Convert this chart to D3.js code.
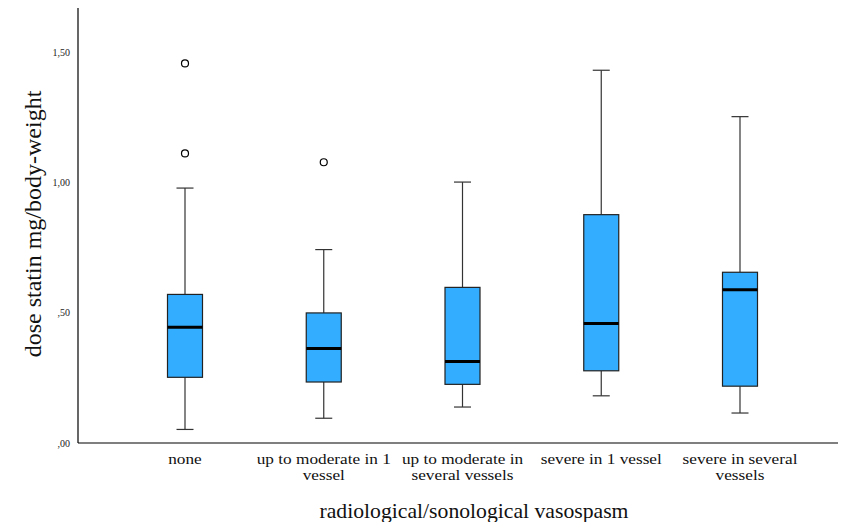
<!DOCTYPE html>
<html><head><meta charset="utf-8">
<script src="https://cdn.jsdelivr.net/npm/d3@7"></script>
<style>body{margin:0;background:#fff}svg{display:block}text{font-family:"Liberation Serif","Times New Roman",serif}</style>
</head><body>
<script>
const categories = [["none"],["up to moderate in 1","vessel"],["up to moderate in","several vessels"],["severe in 1 vessel"],["severe in several","vessels"]];
const whiskerLow  = [0.052, 0.095, 0.138, 0.181, 0.115];
const q1          = [0.252, 0.234, 0.225, 0.277, 0.218];
const median      = [0.444, 0.363, 0.313, 0.458, 0.588];
const q3          = [0.570, 0.499, 0.597, 0.876, 0.655];
const whiskerHigh = [0.978, 0.742, 1.001, 1.430, 1.252];
const outliers    = [[1.456, 1.111],[1.077],[],[],[]];
const yTicks = [0, 0.5, 1.0, 1.5];

const W = 847, H = 522;
const svg = d3.select("body").append("svg").attr("width", W).attr("height", H);
const font = "Liberation Serif, Times New Roman, serif";

const y = d3.scaleLinear().domain([0, 1.5]).range([443, 52]);
const x = d3.scalePoint().domain(d3.range(categories.length)).range([185, 740]);
const bw = 35, cw = 17;

const yAxis = d3.axisLeft(y).tickValues(yTicks).tickSize(0).tickPadding(8)
  .tickFormat(v => d3.format(".2f")(v).replace(/^0/, "").replace(".", ","));
const gy = svg.append("g").attr("transform", "translate(78,0)").call(yAxis);
gy.select(".domain").remove();
gy.selectAll("text").attr("font-family", font).attr("font-size", 10).attr("fill", "#222");
svg.append("line").attr("x1", 78).attr("x2", 78).attr("y1", 8).attr("y2", 443).attr("stroke", "#000").attr("stroke-width", 1.2);
svg.append("line").attr("x1", 78).attr("x2", 838).attr("y1", 443).attr("y2", 443).attr("stroke", "#000").attr("stroke-width", 1.2);

const g = svg.append("g");
categories.forEach((c, i) => {
  const cx = x(i);
  g.append("line").attr("x1", cx).attr("x2", cx).attr("y1", y(whiskerHigh[i])).attr("y2", y(q3[i])).attr("stroke", "#333").attr("stroke-width", 1.2);
  g.append("line").attr("x1", cx).attr("x2", cx).attr("y1", y(q1[i])).attr("y2", y(whiskerLow[i])).attr("stroke", "#333").attr("stroke-width", 1.2);
  g.append("line").attr("x1", cx - cw/2).attr("x2", cx + cw/2).attr("y1", y(whiskerHigh[i])).attr("y2", y(whiskerHigh[i])).attr("stroke", "#333").attr("stroke-width", 1.2);
  g.append("line").attr("x1", cx - cw/2).attr("x2", cx + cw/2).attr("y1", y(whiskerLow[i])).attr("y2", y(whiskerLow[i])).attr("stroke", "#333").attr("stroke-width", 1.2);
  g.append("rect").attr("x", cx - bw/2).attr("width", bw).attr("y", y(q3[i])).attr("height", y(q1[i]) - y(q3[i]))
    .attr("fill", "#33adff").attr("stroke", "#222").attr("stroke-width", 1.2);
  g.append("line").attr("x1", cx - bw/2).attr("x2", cx + bw/2).attr("y1", y(median[i])).attr("y2", y(median[i])).attr("stroke", "#000").attr("stroke-width", 3);
  outliers[i].forEach(o => {
    g.append("circle").attr("cx", cx).attr("cy", y(o)).attr("r", 3.5).attr("fill", "#fff").attr("stroke", "#000").attr("stroke-width", 1.2);
  });
  const t = svg.append("text").attr("transform", `translate(${cx},464) scale(1.15,1)`).attr("text-anchor", "middle")
    .attr("font-family", font).attr("font-size", 15).attr("fill", "#111");
  c.forEach((line, k) => t.append("tspan").attr("x", 0).attr("y", k * 16).text(line));
});

svg.append("text").attr("x", 474).attr("y", 518).attr("text-anchor", "middle")
  .attr("font-family", font).attr("font-size", 21.7).attr("fill", "#111").text("radiological/sonological vasospasm");
svg.append("text").attr("transform", "translate(41,224) rotate(-90)").attr("text-anchor", "middle")
  .attr("font-family", font).attr("font-size", 24).attr("fill", "#111").text("dose statin mg/body-weight");
</script>
</body></html>
